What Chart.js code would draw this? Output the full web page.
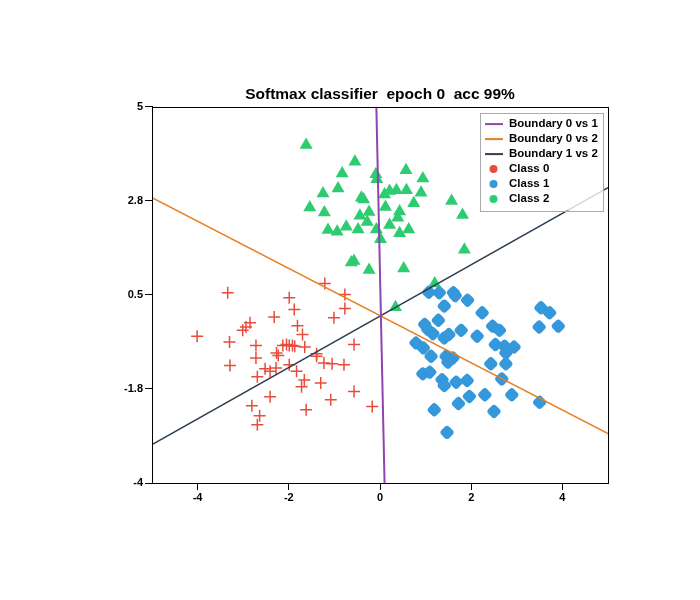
<!DOCTYPE html>
<html>
<head>
<meta charset="utf-8">
<title>Softmax classifier</title>
<script src="https://cdn.jsdelivr.net/npm/chart.js@4.4.1/dist/chart.umd.min.js"></script>
<style>
  html, body { margin: 0; padding: 0; background: #fff; }
  #wrap { width: 700px; height: 600px; }
</style>
</head>
<body>
<div id="wrap"><canvas id="chart" width="700" height="600"></canvas></div>
<script>
// chart data
const titleText = 'Softmax classifier  epoch 0  acc 99%';
const xTicks = [-4, -2, 0, 2, 4];
const yTicks = [-4, -1.75, 0.5, 2.75, 5];
const yTickLabels = ['-4', '-1.8', '0.5', '2.8', '5'];

const class0X = [-1.21, -3.34, -1.99, -0.77, -1.88, -0.77, -1.01, -2.32, -2.85, -2.94, -3.01, -4.01, -1.81,
  -1.70, -3.30, -2.72, -0.57, -2.13, -2.05, -1.99, -1.92, -1.87, -1.65, -2.72, -2.27, -2.23, -1.39, -1.39,
  -1.23, -1.05, -0.79, -3.29, -2.52, -2.41, -2.28, -1.99, -1.83, -2.69, -1.66, -1.72, -1.30, -0.57, -2.41,
  -1.08, -2.81, -2.64, -2.69, -1.62, -0.17];
const class0Y = [0.77, 0.55, 0.43, 0.51, 0.15, 0.17, -0.05, -0.03, -0.17, -0.27, -0.35, -0.49, -0.24,
  -0.45, -0.63, -0.71, -0.69, -0.71, -0.69, -0.71, -0.71, -0.73, -0.75, -1.01, -0.89, -0.95, -0.91, -0.97,
  -1.13, -1.15, -1.17, -1.19, -1.27, -1.33, -1.25, -1.17, -1.33, -1.46, -1.54, -1.70, -1.61, -1.81, -1.94,
  -2.01, -2.15, -2.39, -2.61, -2.25, -2.17];

const class1X = [1.07, 1.30, 1.61, 1.65, 1.92, 1.41, 2.24, 3.53, 3.72, 1.28, 0.98, 1.05, 1.16, 1.41, 1.51,
  1.78, 2.13, 2.47, 2.62, 3.49, 3.91, 0.79, 0.95, 1.12, 1.45, 1.60, 1.49, 2.53, 2.73, 2.94, 2.76, 2.43, 2.76,
  0.94, 1.09, 1.36, 1.41, 1.67, 1.91, 2.67, 1.96, 2.30, 2.89, 1.72, 3.50, 1.19, 2.50, 1.47];
const class1Y = [0.56, 0.55, 0.55, 0.48, 0.37, 0.23, 0.07, 0.19, 0.07, -0.11, -0.21, -0.33, -0.43, -0.53,
  -0.45, -0.35, -0.49, -0.25, -0.35, -0.27, -0.25, -0.65, -0.77, -0.97, -0.97, -1.01, -1.11, -0.69, -0.73,
  -0.75, -0.89, -1.15, -1.15, -1.39, -1.35, -1.53, -1.67, -1.59, -1.55, -1.51, -1.93, -1.89, -1.89, -2.10,
  -2.07, -2.25, -2.29, -2.79];

const class2X = [-1.62, -0.55, -0.83, 0.57, 0.94, -0.09, -0.07, -1.25, -0.92, -1.54, -1.22, -0.36, -0.41,
  0.10, 0.21, 0.36, 0.58, 0.90, 0.74, 1.57, 1.81, -0.24, 0.12, 0.43, 0.39, -0.44, -0.28, -1.14, -0.94, -0.74,
  -0.48, -0.08, 0.21, 0.63, 0.43, 0.01, 1.85, -0.57, -0.63, -0.24, 0.52, 1.20, 0.34];
const class2Y = [4.08, 3.68, 3.40, 3.48, 3.28, 3.38, 3.26, 2.92, 3.04, 2.59, 2.47, 2.78, 2.82, 2.90, 2.98,
  3.00, 3.00, 2.94, 2.69, 2.74, 2.41, 2.48, 2.60, 2.49, 2.34, 2.39, 2.24, 2.05, 2.01, 2.13, 2.06, 2.06, 2.17,
  2.06, 1.97, 1.83, 1.58, 1.31, 1.27, 1.09, 1.13, 0.77, 0.20];

const boundary01X = [-0.08, 0.10];
const boundary01Y = [5, -4];
const boundary02X = [-5, 5];
const boundary02Y = [2.82, -2.82];
const boundary12X = [-5, 5];
const boundary12Y = [-3.08, 3.06];

const colors = {
    class0: '#e74c3c',
    class1: '#3498db',
    class2: '#2ecc71',
    b01: '#8e44ad',
    b02: '#e67e22',
    b12: '#2c3e50'
};

const FONT = '"Liberation Sans", Arial, sans-serif';

function toPoints(xs, ys) {
    return xs.map((x, i) => ({ x: x, y: ys[i] }));
}

// black frame round the plot area (top and right sides)
const framePlugin = {
    id: 'frame',
    afterDraw(chart) {
        const { ctx, chartArea: a } = chart;
        ctx.save();
        ctx.strokeStyle = '#000';
        ctx.lineWidth = 1;
        ctx.strokeRect(Math.round(a.left) + 0.5, Math.round(a.top) + 0.5,
            Math.round(a.right - a.left), Math.round(a.bottom - a.top));
        ctx.restore();
    }
};

// legend box inside the plot, top right
const legendEntries = [
    { label: 'Boundary 0 vs 1', color: colors.b01, kind: 'line' },
    { label: 'Boundary 0 vs 2', color: colors.b02, kind: 'line' },
    { label: 'Boundary 1 vs 2', color: colors.b12, kind: 'line' },
    { label: 'Class 0', color: colors.class0, kind: 'dot' },
    { label: 'Class 1', color: colors.class1, kind: 'dot' },
    { label: 'Class 2', color: colors.class2, kind: 'dot' }
];

const boxLegendPlugin = {
    id: 'boxLegend',
    afterDraw(chart) {
        const { ctx, chartArea: a } = chart;
        const w = 123, h = 98;
        const left = a.right - 5 - w;
        const top = a.top + 6;
        ctx.save();
        ctx.fillStyle = 'rgba(255,255,255,0.8)';
        ctx.fillRect(left, top, w, h);
        ctx.strokeStyle = '#aaaaaa';
        ctx.lineWidth = 1;
        ctx.strokeRect(Math.round(left) + 0.5, Math.round(top) + 0.5, w, h);
        ctx.font = 'bold 11.5px ' + FONT;
        ctx.textBaseline = 'middle';
        ctx.fillStyle = '#000';
        legendEntries.forEach((e, i) => {
            const y = top + 11.5 + i * 15;
            if (e.kind === 'line') {
                ctx.strokeStyle = e.color;
                ctx.lineWidth = 2;
                ctx.beginPath();
                ctx.moveTo(left + 5, y);
                ctx.lineTo(left + 23, y);
                ctx.stroke();
            } else {
                ctx.fillStyle = e.color;
                ctx.beginPath();
                ctx.arc(left + 13.5, y, 4, 0, Math.PI * 2);
                ctx.fill();
            }
            ctx.fillStyle = '#000';
            ctx.fillText(e.label, left + 29, y);
        });
        ctx.restore();
    }
};

const tickFont = { family: FONT, size: 11, weight: 'bold' };

const lineDataset = (label, xs, ys, color, width) => ({
    label: label,
    data: toPoints(xs, ys),
    showLine: true,
    borderColor: color,
    borderWidth: width,
    pointRadius: 0,
    fill: false
});

new Chart(document.getElementById('chart'), {
    type: 'scatter',
    data: {
        datasets: [
            lineDataset('Boundary 0 vs 1', boundary01X, boundary01Y, colors.b01, 2),
            lineDataset('Boundary 0 vs 2', boundary02X, boundary02Y, colors.b02, 1.5),
            lineDataset('Boundary 1 vs 2', boundary12X, boundary12Y, colors.b12, 1.5),
            {
                label: 'Class 0',
                data: toPoints(class0X, class0Y),
                pointStyle: 'cross',
                pointRadius: 6,
                borderColor: colors.class0,
                borderWidth: 1.5
            },
            {
                label: 'Class 1',
                data: toPoints(class1X, class1Y),
                pointStyle: 'rectRounded',
                pointRotation: 45,
                pointRadius: 6.5,
                backgroundColor: colors.class1,
                borderWidth: 0
            },
            {
                label: 'Class 2',
                data: toPoints(class2X, class2Y),
                pointStyle: 'triangle',
                pointRadius: 7.5,
                backgroundColor: colors.class2,
                borderWidth: 0
            }
        ]
    },
    options: {
        responsive: false,
        animation: false,
        layout: { padding: { left: 102, right: 92, top: 85, bottom: 87 } },
        plugins: {
            legend: { display: false },
            tooltip: { enabled: false },
            title: {
                display: true,
                text: titleText,
                fullSize: false,
                color: '#000',
                font: { family: FONT, size: 15.5, weight: 'bold' },
                padding: { top: 0, bottom: 3 }
            }
        },
        scales: {
            x: {
                type: 'linear',
                min: -5,
                max: 5,
                afterBuildTicks(scale) {
                    scale.ticks = xTicks.map(v => ({ value: v }));
                },
                afterFit(scale) { scale.height = 30; },
                ticks: { color: '#000', font: tickFont, padding: 1, maxRotation: 0 },
                grid: { drawOnChartArea: false, tickLength: 7, color: '#000', tickColor: '#000' },
                border: { display: true, color: '#000', width: 1 }
            },
            y: {
                type: 'linear',
                min: -4,
                max: 5,
                afterBuildTicks(scale) {
                    scale.ticks = yTicks.map(v => ({ value: v }));
                },
                afterFit(scale) { scale.width = 50; },
                ticks: {
                    color: '#000',
                    font: tickFont,
                    padding: 2,
                    callback: (value, index) => yTickLabels[index]
                },
                grid: { drawOnChartArea: false, tickLength: 7, color: '#000', tickColor: '#000' },
                border: { display: true, color: '#000', width: 1 }
            }
        }
    },
    plugins: [framePlugin, boxLegendPlugin]
});
</script>
</body>
</html>
